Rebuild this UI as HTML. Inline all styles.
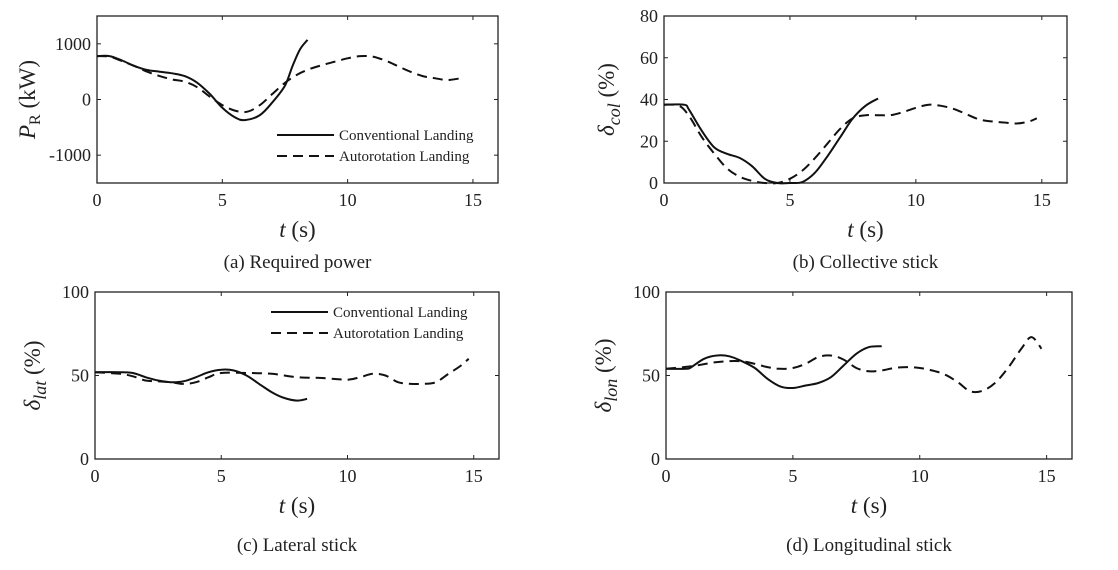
<!DOCTYPE html>
<html><head><meta charset="utf-8"><style>
body{margin:0;background:#fff}
svg{display:block;font-family:"Liberation Serif",serif;}
</style></head><body>
<svg id="fig" width="1118" height="570" xmlns="http://www.w3.org/2000/svg"></svg>
<script>
const xTicks=[0,5,10,15];
// (a) Required power
const aConvT=[0,0.5,1,1.5,2,2.5,3,3.5,4,4.5,5,5.5,5.9,6.5,7,7.5,7.8,8.1,8.4];
const aConvV=[780,780,700,600,530,500,470,420,300,100,-150,-320,-370,-280,-50,250,600,900,1070];
const aAutoT=[0,0.5,1,1.5,2,2.5,3,3.5,4,4.5,5,5.5,6,6.5,7,7.5,8,8.5,9,9.5,10,10.5,11,11.5,12,12.5,13,13.5,14,14.5];
const aAutoV=[780,770,690,600,500,420,360,320,220,50,-100,-200,-220,-100,100,300,450,550,620,680,740,780,770,700,600,500,420,380,350,380];
const aTicks=[-1000,0,1000];
// (b) Collective
const bConvT=[0,0.8,1,1.5,2,2.5,3,3.5,4,4.5,5,5.5,6,6.5,7,7.5,8,8.5];
const bConvV=[37.5,37.5,35,25,17,14,12,8,2,0,0,0.5,5,13,22,31,37,40.5];
const bAutoT=[0,0.6,1,1.5,2,2.5,3,3.5,4,4.5,5,5.5,6,6.5,7,7.5,8,8.5,9,9.5,10,10.5,11,11.5,12,12.5,13,13.5,14,14.5,14.8];
const bAutoV=[37.5,37,32,22,14,7,3,1,0,0,2,6,12,19,26,31,32.5,32.5,32.5,34,36,37.5,37,35.5,33,30.5,29.5,29,28.5,29.5,31];
const bTicks=[0,20,40,60,80];
// (c) Lateral
const cConvT=[0,1,1.5,2,2.5,3,3.5,4,4.5,5,5.5,6,6.5,7,7.5,8,8.4];
const cConvV=[52,52,51.5,49,47,46,46.5,49,52,53.5,53,50,45,40,36.5,35,36];
const cAutoT=[0,1,1.5,2,2.5,3,3.5,4,4.5,5,6,7,8,9,10,10.5,11,11.5,12,12.5,13,13.5,14,14.5,14.8];
const cAutoV=[52,51,49.5,47,46.5,46,45,46,49,51.5,51.5,51,49,48.5,47.5,49,51,50,46,45,45,46,51,56,60];
const cTicks=[0,50,100];
// (d) Longitudinal
const dConvT=[0,0.8,1,1.5,2,2.5,3,3.5,4,4.5,5,5.5,6,6.5,7,7.5,8,8.5];
const dConvV=[54,54,55,60,62,61.5,58.5,54.5,48,43.5,42.5,44,45.5,49,56,63,67,67.5];
const dAutoT=[0,1,2,3,4,4.5,5,5.5,6,6.5,7,7.5,8,8.5,9,9.5,10,10.5,11,11.5,12,12.5,13,13.5,14,14.4,14.8];
const dAutoV=[54,55.5,58,58.5,55,54,54.5,57,61,62,59.5,54.5,52.5,53,54.5,55,54.5,53,50.5,46,40.5,41,46,55,66,73,66];
const dTicks=[0,50,100];

const NS="http://www.w3.org/2000/svg";
const svg=document.getElementById('fig');
function mk(tag,attrs,parent,text){const e=document.createElementNS(NS,tag);for(const k in attrs)e.setAttribute(k,attrs[k]);if(text!==undefined)e.textContent=text;(parent||svg).appendChild(e);return e;}
function smooth(pts){let d='M'+pts[0][0].toFixed(1)+','+pts[0][1].toFixed(1);
 for(let i=0;i<pts.length-1;i++){const p0=pts[Math.max(0,i-1)],p1=pts[i],p2=pts[i+1],p3=pts[Math.min(pts.length-1,i+2)];
  const c1=[p1[0]+(p2[0]-p0[0])/6,p1[1]+(p2[1]-p0[1])/6],c2=[p2[0]-(p3[0]-p1[0])/6,p2[1]-(p3[1]-p1[1])/6];
  d+='C'+c1.map(v=>v.toFixed(1))+' '+c2.map(v=>v.toFixed(1))+' '+p2[0].toFixed(1)+','+p2[1].toFixed(1);}
 return d;}
function panel(o){
 const g=mk('g',{});
 
 
 const X=t=>o.l+(o.r-o.l)*t/16, Y=v=>o.b-(o.b-o.t)*(v-o.ymin)/(o.ymax-o.ymin);
 const fr=mk('rect',{x:o.l,y:o.t,width:o.r-o.l,height:o.b-o.t,fill:'none',stroke:'#222','stroke-width':1.3},g);
 
 
 xTicks.forEach(t=>{const x=X(t);
  mk('line',{x1:x,x2:x,y1:o.b,y2:o.b-4,stroke:'#222'},g);mk('line',{x1:x,x2:x,y1:o.t,y2:o.t+4,stroke:'#222'},g);
  const tx=mk('text',{x:x,y:o.b+23,'font-size':18,'text-anchor':'middle',fill:'#222'},g,String(t));
  
  });
 o.ticks.forEach(v=>{const y=Y(v);
  mk('line',{x1:o.l,x2:o.l+4,y1:y,y2:y,stroke:'#222'},g);mk('line',{x1:o.r,x2:o.r-4,y1:y,y2:y,stroke:'#222'},g);
  const tx=mk('text',{x:o.l-6,y:y+6,'font-size':18,'text-anchor':'end',fill:'#222'},g,String(v));
  
  });
 const cp=mk('path',{d:smooth(o.ct.map((t,i)=>[X(t),Y(o.cv[i])])),fill:'none',stroke:'#111','stroke-width':2},g);
 
 
 const ap=mk('path',{d:smooth(o.at.map((t,i)=>[X(t),Y(o.av[i])])),fill:'none',stroke:'#111','stroke-width':2,'stroke-dasharray':'10,6'},g);
 
 
 const xl=mk('text',{x:(o.l+o.r)/2,y:o.b+54,'font-size':23,'text-anchor':'middle',fill:'#222'},g);
 xl.innerHTML='<tspan font-style="italic">t</tspan> (s)';
 
 
 const yl=mk('text',{transform:`translate(${o.l-o.ydx},${(o.t+o.b)/2}) rotate(-90)`,'font-size':23,'text-anchor':'middle',fill:'#222'},g);
 yl.innerHTML=o.ylab;
 
 
 const cap=mk('text',{x:(o.l+o.r)/2,y:o.b+o.capdy,'font-size':19,'text-anchor':'middle',fill:'#222'},g,o.cap);
 
 
 if(o.leg){const [lx,ly]=o.leg;
  const l1=mk('g',{},g);
  mk('line',{x1:lx,x2:lx+57,y1:ly,y2:ly,stroke:'#111','stroke-width':2},l1);
  mk('text',{x:lx+62,y:ly+5,'font-size':15,fill:'#222'},l1,'Conventional Landing');
  const l2=mk('g',{},g);
  mk('line',{x1:lx,x2:lx+57,y1:ly+21,y2:ly+21,stroke:'#111','stroke-width':2,'stroke-dasharray':'10,6'},l2);
  mk('text',{x:lx+62,y:ly+26,'font-size':15,fill:'#222'},l2,'Autorotation Landing');}
}
panel({name:'required-power-chart',l:97,r:498,t:16,b:183,ymin:-1500,ymax:1500,ticks:aTicks,ct:aConvT,cv:aConvV,at:aAutoT,av:aAutoV,ydx:62,
 ylab:'<tspan font-style="italic">P</tspan><tspan font-size="16" dy="5">R</tspan><tspan dy="-5"> (kW)</tspan>',cap:'(a) Required power',capdy:85,leg:[277,135]});
panel({name:'collective-stick-chart',l:664,r:1067,t:16,b:183,ymin:0,ymax:80,ticks:bTicks,ct:bConvT,cv:bConvV,at:bAutoT,av:bAutoV,ydx:50,
 ylab:'<tspan font-style="italic">δ</tspan><tspan font-style="italic" font-size="18" dy="6">col</tspan><tspan dy="-6"> (%)</tspan>',cap:'(b) Collective stick',capdy:85});
panel({name:'lateral-stick-chart',l:95,r:499,t:292,b:459,ymin:0,ymax:100,ticks:cTicks,ct:cConvT,cv:cConvV,at:cAutoT,av:cAutoV,ydx:55,
 ylab:'<tspan font-style="italic">δ</tspan><tspan font-style="italic" font-size="18" dy="6">lat</tspan><tspan dy="-6"> (%)</tspan>',cap:'(c) Lateral stick',capdy:92,leg:[271,312]});
panel({name:'longitudinal-stick-chart',l:666,r:1072,t:292,b:459,ymin:0,ymax:100,ticks:dTicks,ct:dConvT,cv:dConvV,at:dAutoT,av:dAutoV,ydx:55,
 ylab:'<tspan font-style="italic">δ</tspan><tspan font-style="italic" font-size="18" dy="6">lon</tspan><tspan dy="-6"> (%)</tspan>',cap:'(d) Longitudinal stick',capdy:92});
</script>
</body></html>
